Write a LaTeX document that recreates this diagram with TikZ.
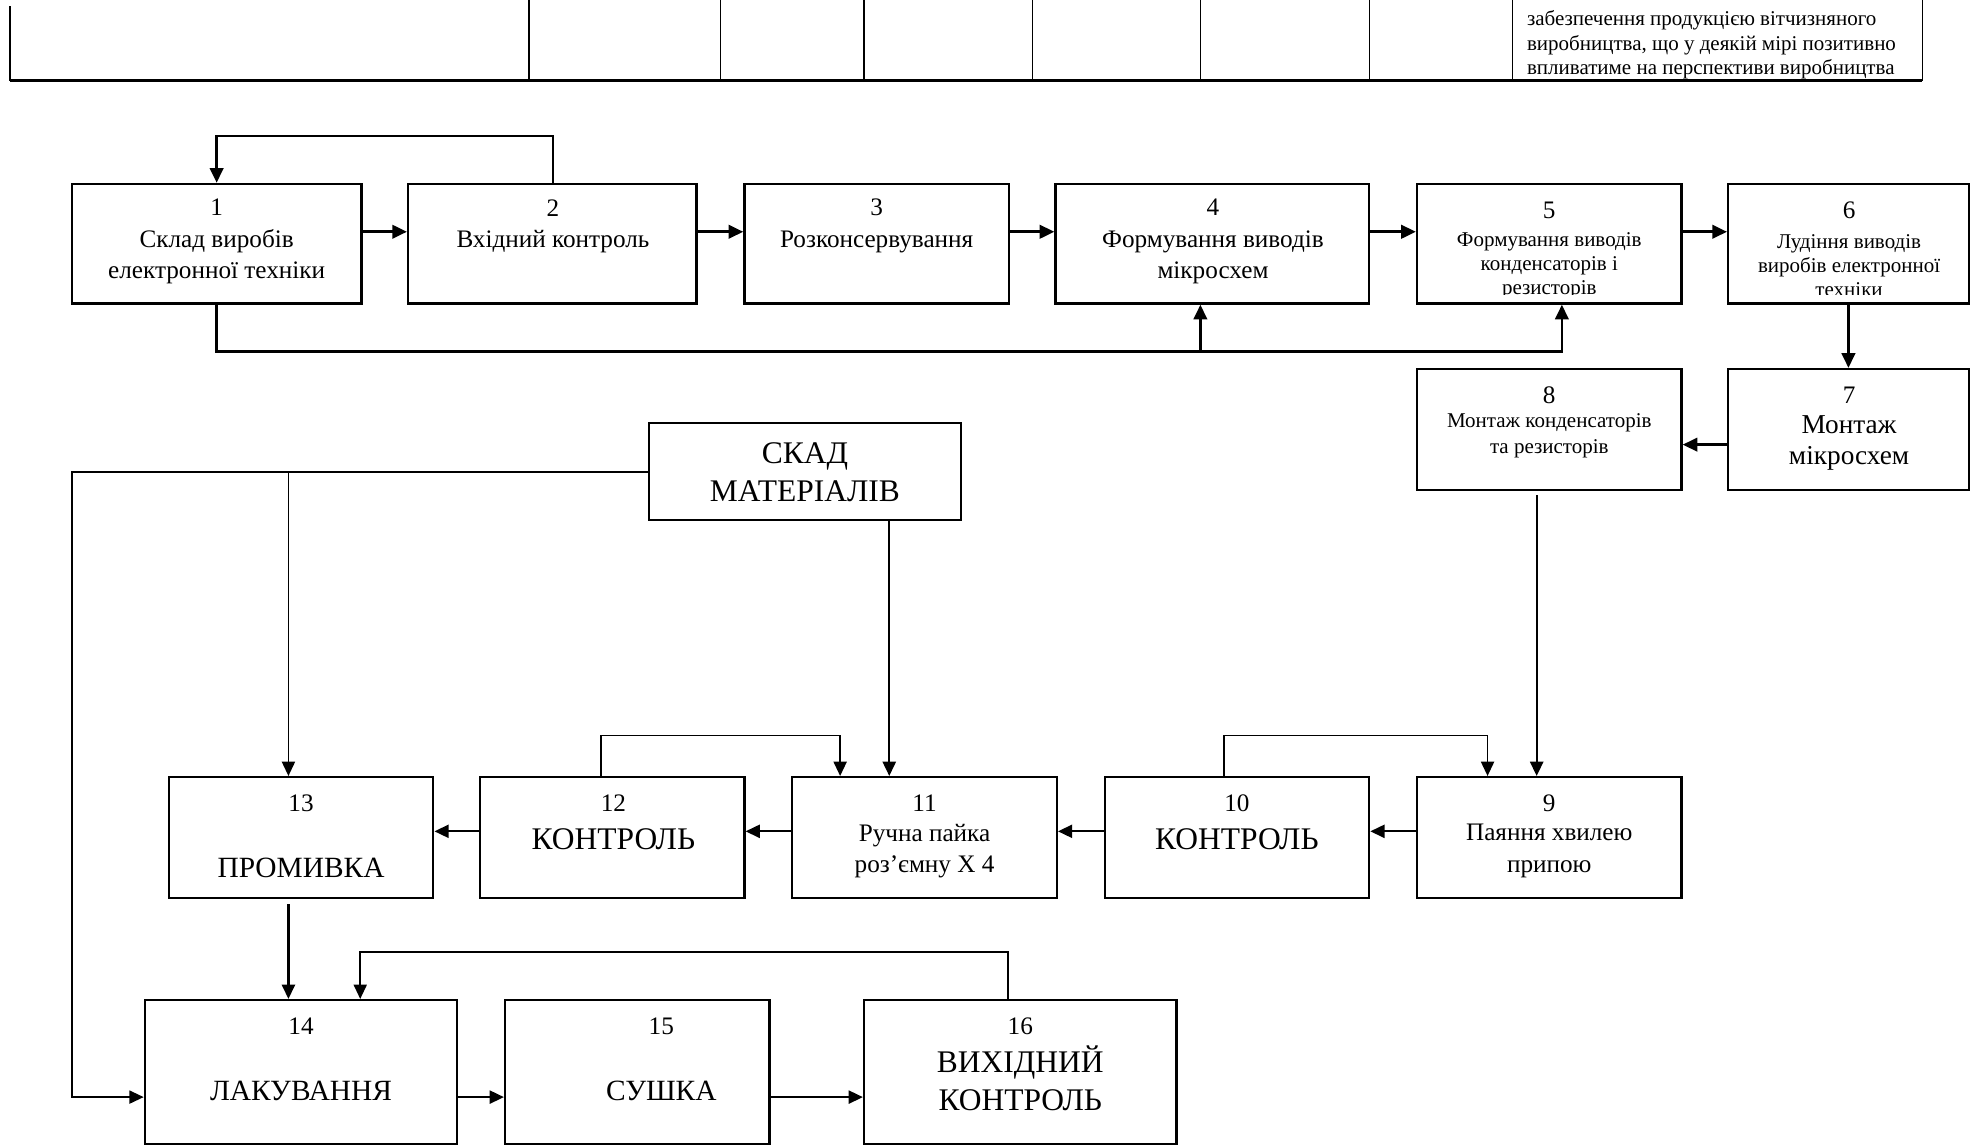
\documentclass[tikz,border=0pt]{standalone}
\usepackage{fontspec}
\setmainfont{Liberation Serif}
\usetikzlibrary{arrows.meta,fit,calc}

\begin{document}
\begin{tikzpicture}[x=0.6pt,y=-0.6pt,
  box/.style={draw, line width=1.1pt, inner sep=0pt},
  num/.style={inner sep=0pt, font=\fontsize{12}{14}\selectfont},
  body/.style={inner sep=0pt, align=center, font=\fontsize{12}{15}\selectfont},
  small/.style={inner sep=0pt, align=center, font=\fontsize{10}{11.4}\selectfont},
  caps/.style={inner sep=0pt, align=center, font=\fontsize{15}{18}\selectfont},
  upflow/.style={line width=1.3pt, -{Triangle[length=7pt,width=6.4pt]}},
  lowflow/.style={line width=1.1pt, -{Triangle[length=6.8pt,width=6.2pt]}},
  thinflow/.style={line width=0.85pt, -{Triangle[length=6.8pt,width=6.2pt]}}
]
\useasboundingbox (0,0) rectangle (1568,909);

% ---- table fragment at the top ----
\draw[line width=0.6pt] (8,5) -- (8,64);
\foreach \xx in {420,572,686,820,953,1087,1201,1526}
  \draw[line width=0.6pt] (\xx,0) -- (\xx,64);
\draw[line width=1.6pt] (8,64) -- (1526,64);
\node[inner sep=0pt, anchor=west, align=left, font=\fontsize{10}{11.7}\selectfont] (tbl) at (1212,35.5)
  {забезпечення продукцією вітчизняного\\виробництва, що у деякій мірі позитивно\\впливатиме на перспективи виробництва};

% ---- first row ----
\node[box, fit={(57,146) (287,241)}] (b1) {};
\node[box, fit={(324,146) (553,241)}] (b2) {};
\node[box, fit={(591,146) (801,241)}] (b3) {};
\node[box, fit={(838,146) (1087,241)}] (b4) {};
\node[box, fit={(1125,146) (1335,241)}] (b5) {};
\node[box, fit={(1372,146) (1563,241)}] (b6) {};
\node[box, fit={(1372,293) (1563,389)}] (b7) {};
\node[box, fit={(1125,293) (1335,389)}] (b8) {};

\node[body] (t1) at (172,192) {1\\Склад виробів\\електронної техніки};
\node[body] (t2) at (439,179.5) {2\\Вхідний контроль};
\node[body] (t3) at (696,179.5) {3\\Розконсервування};
\node[body] (t4) at (963,192) {4\\Формування виводів\\мікросхем};
\node[num] (n5) at (1230,167) {5};
\node[num] (n6) at (1468,167) {6};
% the last line of these two boxes runs past the text frame and is cut off
\begin{scope}
  \clip (1125,146) rectangle (1563,234);
  \node[small] (t5) at (1230,211) {Формування виводів\\конденсаторів і\\резисторів};
  \node[small] (t6) at (1468,211) {Лудіння виводів\\виробів електронної\\техніки};
\end{scope}
\node[num] (n7) at (1468,314) {7};
\node[inner sep=0pt, align=center, font=\fontsize{13}{15}\selectfont] (t7) at (1468,351.5) {Монтаж\\мікросхем};
\node[num] (n8) at (1230,314) {8};
\node[inner sep=0pt, align=center, font=\fontsize{10}{12}\selectfont] (t8) at (1230,346) {Монтаж конденсаторів\\та резисторів};

% ---- materials store ----
\node[box, fit={(515,336) (763,413)}] (sk) {};
\node[caps] (tsk) at (639,375) {СКАД\\МАТЕРІАЛІВ};

% ---- second row ----
\node[box, fit={(134,617) (344,713)}] (b13) {};
\node[box, fit={(381,617) (591,713)}] (b12) {};
\node[box, fit={(629,617) (839,713)}] (b11) {};
\node[box, fit={(877,617) (1087,713)}] (b10) {};
\node[box, fit={(1125,617) (1335,713)}] (b9) {};

\node[num] (n13) at (239,638) {13};
\node[inner sep=0pt, font=\fontsize{14}{16}\selectfont] (t13) at (239,689) {ПРОМИВКА};
\node[num] (n12) at (487,638) {12};
\node[caps] (t12) at (487,666) {КОНТРОЛЬ};
\node[num] (n11) at (734,638) {11};
\node[body] (t11) at (734,675.5) {Ручна пайка\\роз’ємну Х 4};
\node[num] (n10) at (982,638) {10};
\node[caps] (t10) at (982,666) {КОНТРОЛЬ};
\node[num] (n9) at (1230,638) {9};
\node[body] (t9) at (1230,675.5) {Паяння хвилею\\припою};

% ---- third row ----
\node[box, fit={(115,794) (363,908)}] (b14) {};
\node[box, fit={(401,794) (611,908)}] (b15) {};
\node[box, fit={(686,794) (934,908)}] (b16) {};

\node[num] (n14) at (239,815) {14};
\node[inner sep=0pt, font=\fontsize{14}{16}\selectfont] (t14) at (239,866) {ЛАКУВАННЯ};
\node[num] (n15) at (525,815) {15};
\node[inner sep=0pt, font=\fontsize{14}{16}\selectfont] (t15) at (525,866) {СУШКА};
\node[num] (n16) at (810,815) {16};
\node[caps] (t16) at (810,856) {ВИХІДНИЙ\\КОНТРОЛЬ};

% ---- helper levels and bends ----
\coordinate (ra) at (0,184);
\coordinate (rb) at (0,353);
\coordinate (rc) at (0,660);
\coordinate (rd) at (0,871);
\coordinate (fb1) at (172,108);
\coordinate (fb2) at (439,108);
\coordinate (lo1) at (172,279);
\coordinate (lo4) at (953,279);
\coordinate (lo5) at (1240,279);
\coordinate (k10a) at (972,584);
\coordinate (k10b) at (1181,584);
\coordinate (k12a) at (477,584);
\coordinate (k12b) at (667,584);
\coordinate (m0) at (57,375);
\coordinate (m13) at (229,375);
\coordinate (m1) at (57,871);
\coordinate (q8) at (1220,393);
\coordinate (q13) at (229,718);
\coordinate (k16a) at (800,756);
\coordinate (k16b) at (286,756);
\coordinate (skx) at (706,0);

% ---- first row flow ----
\draw[upflow] (b1.east |- ra) -- (b2.west |- ra);
\draw[upflow] (b2.east |- ra) -- (b3.west |- ra);
\draw[upflow] (b3.east |- ra) -- (b4.west |- ra);
\draw[upflow] (b4.east |- ra) -- (b5.west |- ra);
\draw[upflow] (b5.east |- ra) -- (b6.west |- ra);
\draw[upflow] (b2.north -| fb2) -- (fb2) -- (fb1) -- (b1.north -| fb1);
\draw[upflow] (b1.south -| lo1) -- (lo1) -- (lo5) -- (b5.south -| lo5);
\draw[upflow] (lo4) -- (b4.south -| lo4);
\draw[upflow] (b6.south) -- (b7.north);
\draw[upflow] (b7.west |- rb) -- (b8.east |- rb);

% ---- second row flow ----
\draw[lowflow] (q8) -- (b9.north -| q8);
\draw[thinflow] (b10.north -| k10a) -- (k10a) -- (k10b) -- (b9.north -| k10b);
\draw[lowflow] (b9.west |- rc) -- (b10.east |- rc);
\draw[lowflow] (b10.west |- rc) -- (b11.east |- rc);
\draw[lowflow] (b11.west |- rc) -- (b12.east |- rc);
\draw[lowflow] (b12.west |- rc) -- (b13.east |- rc);
\draw[thinflow] (b12.north -| k12a) -- (k12a) -- (k12b) -- (b11.north -| k12b);
\draw[lowflow] (sk.south -| skx) -- (b11.north -| skx);
\draw[thinflow] (sk.west |- m0) -- (m0) -- (m1) -- (b14.west |- m1);
\draw[thinflow] (m13) -- (b13.north -| m13);

% ---- third row flow ----
\draw[lowflow] (q13) -- (b14.north -| q13);
\draw[thinflow] (b16.north -| k16a) -- (k16a) -- (k16b) -- (b14.north -| k16b);
\draw[lowflow] (b14.east |- rd) -- (b15.west |- rd);
\draw[lowflow] (b15.east |- rd) -- (b16.west |- rd);
\end{tikzpicture}
\end{document}
